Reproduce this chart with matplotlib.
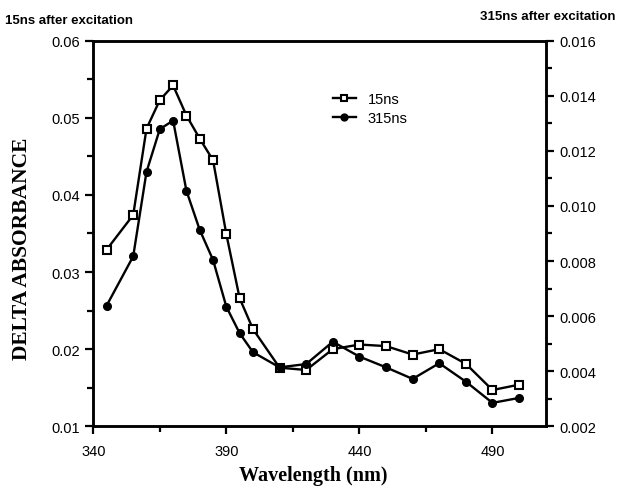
import matplotlib
matplotlib.use('Agg')
from matplotlib import pyplot as plt
from matplotlib.ticker import MultipleLocator, FixedLocator

# Wavelengths (nm)
wavelength = [345, 355, 360, 365, 370, 375, 380, 385, 390, 395, 400,
              410, 420, 430, 440, 450, 460, 470, 480, 490, 500]

# 15ns after excitation (left axis)
abs_15ns = [0.0329, 0.0374, 0.0486, 0.0523, 0.0542, 0.0503, 0.0473, 0.0445,
            0.0349, 0.0266, 0.0226, 0.0176, 0.0173, 0.0200, 0.0206, 0.0204,
            0.0193, 0.0200, 0.0181, 0.0147, 0.0154]

# 315ns after excitation (right axis)
abs_315ns = [0.00638, 0.00817, 0.01124, 0.01279, 0.01310, 0.01055, 0.00913,
             0.00804, 0.00634, 0.00538, 0.00469, 0.00414, 0.00426, 0.00507,
             0.00453, 0.00414, 0.00372, 0.00429, 0.00362, 0.00285, 0.00303]

x_ticks = [340, 390, 440, 490]

sans = 'Liberation Sans'
serif = 'Liberation Serif'

fig = plt.figure(figsize=(6.19, 4.89), dpi=100)
ax = fig.add_axes([0.1507, 0.1262, 0.7309, 0.7885])
ax2 = ax.twinx()

l1, = ax.plot(wavelength, abs_15ns, color='black', lw=1.7, marker='s',
              ms=5.5, mfc='white', mec='black', mew=1.5, label='15ns', zorder=3)
l2, = ax2.plot(wavelength, abs_315ns, color='black', lw=1.7, marker='o',
               ms=5.5, mfc='black', mec='black', label='315ns', zorder=3)

ax.set_xlim(340, 510)
ax.set_ylim(0.01, 0.06)
ax2.set_ylim(0.002, 0.016)

ax.xaxis.set_major_locator(FixedLocator(x_ticks))
ax.xaxis.set_minor_locator(FixedLocator([365, 415, 465]))
ax.yaxis.set_major_locator(MultipleLocator(0.01))
ax.yaxis.set_minor_locator(MultipleLocator(0.005))
ax2.yaxis.set_major_locator(MultipleLocator(0.002))
ax2.yaxis.set_minor_locator(MultipleLocator(0.001))
ax.yaxis.set_major_formatter(matplotlib.ticker.FormatStrFormatter('%.2f'))
ax2.yaxis.set_major_formatter(matplotlib.ticker.FormatStrFormatter('%.3f'))

for a in (ax, ax2):
    for s in a.spines.values():
        s.set_linewidth(1.8)
    a.tick_params(which='major', length=6, width=1.6, labelsize=10.5)
    a.tick_params(which='minor', length=4, width=1.6)
    for lab in a.get_xticklabels() + a.get_yticklabels():
        lab.set_fontfamily(sans)
ax.tick_params(axis='x', which='both', pad=7)

ax.set_xlabel('Wavelength (nm)', fontfamily=serif, fontweight='bold',
              fontsize=14.5)
ax.xaxis.set_label_coords(0.487, -0.1)
ax.set_ylabel('DELTA ABSORBANCE', fontfamily=serif, fontweight='bold',
              fontsize=15.5)
ax.yaxis.set_label_coords(-0.135, 0.462)

fig.text(0.008, 0.958, '15ns after excitation', fontfamily=sans,
         fontweight='bold', fontsize=9.5, ha='left', va='center')
fig.text(0.995, 0.965, '315ns after excitation', fontfamily=sans,
         fontweight='bold', fontsize=9.5, ha='right', va='center')

leg = ax.legend([l1, l2], ['15ns', '315ns'], loc='upper left',
                bbox_to_anchor=(0.5, 0.9), frameon=False,
                prop={'family': sans, 'size': 10.5}, handlelength=1.6,
                markerscale=0.9, labelspacing=0.3)

fig.savefig('out.png', dpi=100)
